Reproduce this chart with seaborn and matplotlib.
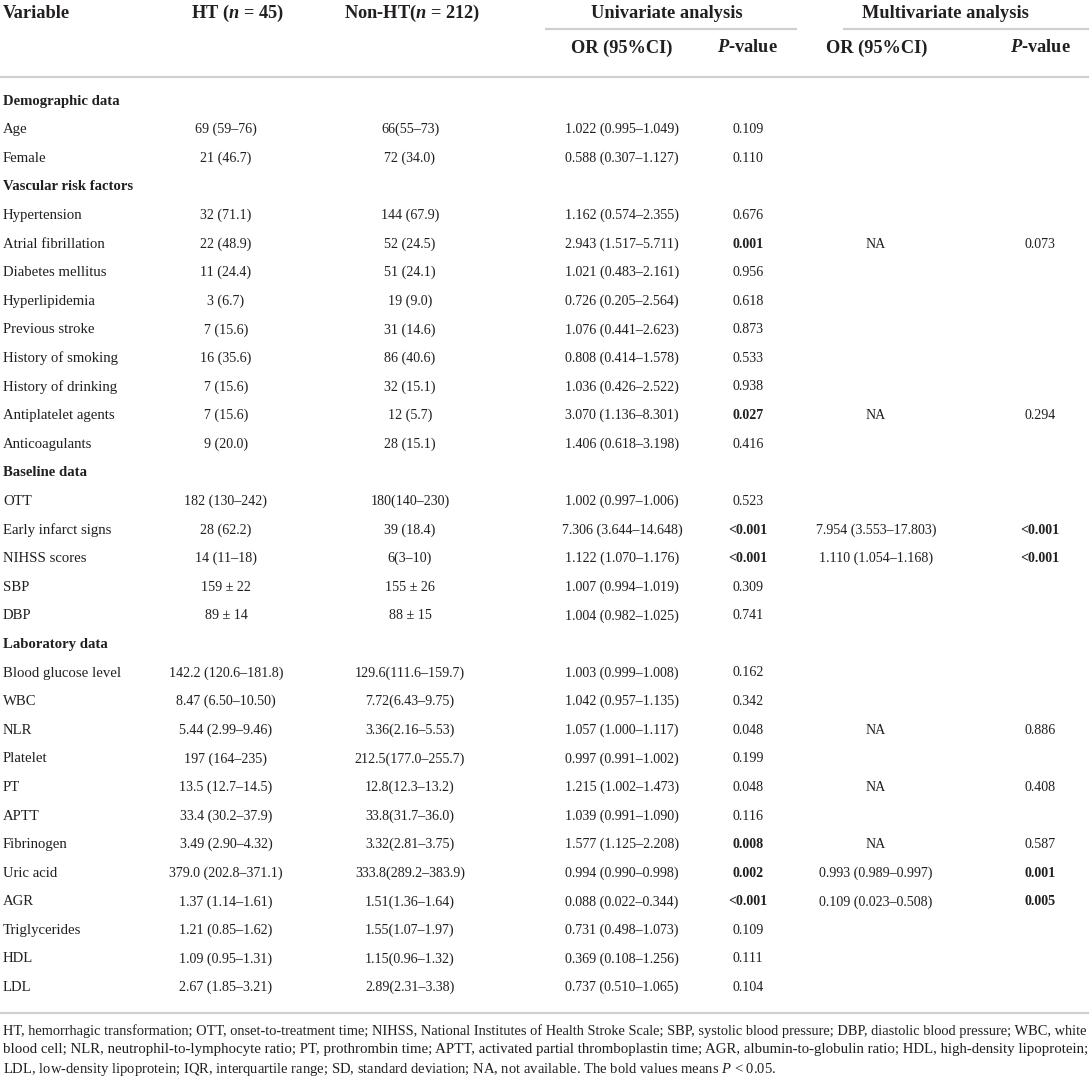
import matplotlib
matplotlib.use("Agg")
import matplotlib.pyplot as plt
import seaborn as sns

# ---- table data ----
variables = ["Demographic data", "Age", "Female",
             "Vascular risk factors", "Hypertension", "Atrial fibrillation",
             "Diabetes mellitus", "Hyperlipidemia", "Previous stroke",
             "History of smoking", "History of drinking", "Antiplatelet agents",
             "Anticoagulants",
             "Baseline data", "OTT", "Early infarct signs", "NIHSS scores", "SBP", "DBP",
             "Laboratory data", "Blood glucose level", "WBC", "NLR", "Platelet", "PT",
             "APTT", "Fibrinogen", "Uric acid", "AGR", "Triglycerides", "HDL", "LDL"]
sections = ["Demographic data", "Vascular risk factors", "Baseline data", "Laboratory data"]

ht = ["", "69 (59–76)", "21 (46.7)",
      "", "32 (71.1)", "22 (48.9)", "11 (24.4)", "3 (6.7)", "7 (15.6)",
      "16 (35.6)", "7 (15.6)", "7 (15.6)", "9 (20.0)",
      "", "182 (130–242)", "28 (62.2)", "14 (11–18)", "159 ± 22", "89 ± 14",
      "", "142.2 (120.6–181.8)", "8.47 (6.50–10.50)", "5.44 (2.99–9.46)", "197 (164–235)",
      "13.5 (12.7–14.5)", "33.4 (30.2–37.9)", "3.49 (2.90–4.32)", "379.0 (202.8–371.1)",
      "1.37 (1.14–1.61)", "1.21 (0.85–1.62)", "1.09 (0.95–1.31)", "2.67 (1.85–3.21)"]

non_ht = ["", "66(55–73)", "72 (34.0)",
          "", "144 (67.9)", "52 (24.5)", "51 (24.1)", "19 (9.0)", "31 (14.6)",
          "86 (40.6)", "32 (15.1)", "12 (5.7)", "28 (15.1)",
          "", "180(140–230)", "39 (18.4)", "6(3–10)", "155 ± 26", "88 ± 15",
          "", "129.6(111.6–159.7)", "7.72(6.43–9.75)", "3.36(2.16–5.53)", "212.5(177.0–255.7)",
          "12.8(12.3–13.2)", "33.8(31.7–36.0)", "3.32(2.81–3.75)", "333.8(289.2–383.9)",
          "1.51(1.36–1.64)", "1.55(1.07–1.97)", "1.15(0.96–1.32)", "2.89(2.31–3.38)"]

uni_or = ["", "1.022 (0.995–1.049)", "0.588 (0.307–1.127)",
          "", "1.162 (0.574–2.355)", "2.943 (1.517–5.711)", "1.021 (0.483–2.161)",
          "0.726 (0.205–2.564)", "1.076 (0.441–2.623)", "0.808 (0.414–1.578)",
          "1.036 (0.426–2.522)", "3.070 (1.136–8.301)", "1.406 (0.618–3.198)",
          "", "1.002 (0.997–1.006)", "7.306 (3.644–14.648)", "1.122 (1.070–1.176)",
          "1.007 (0.994–1.019)", "1.004 (0.982–1.025)",
          "", "1.003 (0.999–1.008)", "1.042 (0.957–1.135)", "1.057 (1.000–1.117)",
          "0.997 (0.991–1.002)", "1.215 (1.002–1.473)", "1.039 (0.991–1.090)",
          "1.577 (1.125–2.208)", "0.994 (0.990–0.998)", "0.088 (0.022–0.344)",
          "0.731 (0.498–1.073)", "0.369 (0.108–1.256)", "0.737 (0.510–1.065)"]

uni_p = ["", "0.109", "0.110",
         "", "0.676", "0.001", "0.956", "0.618", "0.873", "0.533", "0.938", "0.027", "0.416",
         "", "0.523", "<0.001", "<0.001", "0.309", "0.741",
         "", "0.162", "0.342", "0.048", "0.199", "0.048", "0.116", "0.008", "0.002",
         "<0.001", "0.109", "0.111", "0.104"]
uni_bold = ["Atrial fibrillation", "Antiplatelet agents", "Early infarct signs",
            "NIHSS scores", "Fibrinogen", "Uric acid", "AGR"]

multi_or = {"Atrial fibrillation": "NA", "Antiplatelet agents": "NA",
            "Early infarct signs": "7.954 (3.553–17.803)", "NIHSS scores": "1.110 (1.054–1.168)",
            "NLR": "NA", "PT": "NA", "Fibrinogen": "NA",
            "Uric acid": "0.993 (0.989–0.997)", "AGR": "0.109 (0.023–0.508)"}
multi_p = {"Atrial fibrillation": "0.073", "Antiplatelet agents": "0.294",
           "Early infarct signs": "<0.001", "NIHSS scores": "<0.001",
           "NLR": "0.886", "PT": "0.408", "Fibrinogen": "0.587",
           "Uric acid": "0.001", "AGR": "0.005"}
multi_bold = ["Early infarct signs", "NIHSS scores", "Uric acid", "AGR"]

footnote = [
    "HT, hemorrhagic transformation; OTT, onset-to-treatment time; NIHSS, National Institutes of Health Stroke Scale; "
    "SBP, systolic blood pressure; DBP, diastolic blood pressure; WBC, white",
    "blood cell; NLR, neutrophil-to-lymphocyte ratio; PT, prothrombin time; APTT, activated partial thromboplastin time; "
    "AGR, albumin-to-globulin ratio; HDL, high-density lipoprotein;",
    "LDL, low-density lipoprotein; IQR, interquartile range; SD, standard deviation; NA, not available. "
    r"The bold values means $\mathit{P}$ < 0.05.",
]

# ---- style ----
sns.set_theme(style="white")
plt.rcParams.update({
    "font.family": ["Liberation Serif", "DejaVu Serif"],
    "mathtext.fontset": "custom",
    "mathtext.rm": "Liberation Serif",
    "mathtext.it": "Liberation Serif:italic",
    "mathtext.bf": "Liberation Serif:bold",
    "mathtext.bfit": "Liberation Serif:italic:bold",
    "text.color": "#231f20",
})
RULE = "#cfcfcf"
FS = 10.6      # row labels
FN = 10.1      # numbers
FH = 13.2      # header

W, H = 1089, 1081
fig = plt.figure(figsize=(W / 100, H / 100), dpi=100)
ax = fig.add_axes([0, 0, 1, 1])
ax.set_xlim(0, W)
ax.set_ylim(H, 0)
ax.axis("off")

x_var, x_ht, x_non, x_uor, x_up, x_mor, x_mp = 3, 226, 410, 622, 748, 876, 1040

# header
hy1, hy2 = 13, 48
ax.text(x_var, hy1, "Variable", ha="left", va="center", fontsize=FH, fontweight="bold")
ax.text(237, hy1, r"HT ($\mathbfit{n}$ = 45)", ha="center", va="center",
        fontsize=FH, fontweight="bold")
ax.text(412, hy1, r"Non-HT($\mathbfit{n}$ = 212)", ha="center", va="center",
        fontsize=FH, fontweight="bold")
ax.text(667, hy1, "Univariate analysis", ha="center", va="center", fontsize=FH, fontweight="bold")
ax.text(945, hy1, "Multivariate analysis", ha="center", va="center", fontsize=FH, fontweight="bold")
for xc, lab in [(x_uor, "OR (95%CI)"), (x_up - 1, r"$\mathbfit{P}$-value"),
                (x_mor + 1, "OR (95%CI)"), (x_mp, r"$\mathbfit{P}$-value")]:
    ax.text(xc, hy2, lab, ha="center", va="center", fontsize=FH, fontweight="bold")

ax.hlines(29, 545, 797, color=RULE, lw=1.6)
ax.hlines(29, 843, W, color=RULE, lw=1.6)
ax.hlines(77, 0, W, color=RULE, lw=1.6)

# body
y0, dy = 101, 28.6
for i, var in enumerate(variables):
    y = y0 + i * dy
    if var in sections:
        ax.text(x_var, y, var, ha="left", va="center", fontsize=FS, fontweight="bold")
        continue
    ax.text(x_var, y, var, ha="left", va="center", fontsize=FS)
    ax.text(x_ht, y, ht[i], ha="center", va="center", fontsize=FN)
    ax.text(x_non, y, non_ht[i], ha="center", va="center", fontsize=FN)
    ax.text(x_uor, y, uni_or[i], ha="center", va="center", fontsize=FN)
    ax.text(x_up, y, uni_p[i], ha="center", va="center", fontsize=FN,
            fontweight="bold" if var in uni_bold else "normal")
    if var in multi_or:
        ax.text(x_mor, y, multi_or[var], ha="center", va="center", fontsize=FN)
        ax.text(x_mp, y, multi_p[var], ha="center", va="center", fontsize=FN,
                fontweight="bold" if var in multi_bold else "normal")

ax.hlines(1013, 0, W, color=RULE, lw=1.6)

# footnote: first two lines justified to the full width
fig.canvas.draw()
renderer = fig.canvas.get_renderer()
foot_y = [1031, 1050, 1069]
base = 9.0
sizes = []
for k, line in enumerate(footnote):
    t = ax.text(x_var, foot_y[k], line, ha="left", va="center", fontsize=base)
    if k < 2:
        w = t.get_window_extent(renderer).width
        t.set_fontsize(base * (W - 6) / w)
        sizes.append(base * (W - 6) / w)
    else:
        t.set_fontsize(sum(sizes) / len(sizes))

fig.savefig("out.png", dpi=100)
